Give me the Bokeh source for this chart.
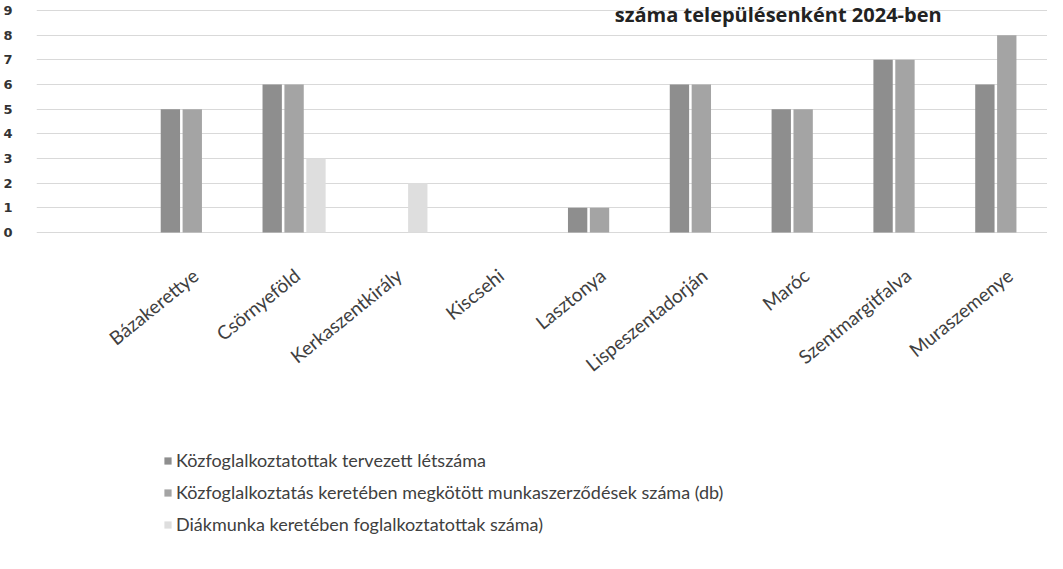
import numpy as np
from bokeh.plotting import figure
from bokeh.models import (ColumnDataSource, FixedTicker, Legend, LegendItem,
                          Label, Range1d)
from bokeh.core.properties import value
from bokeh.transform import dodge
from bokeh.embed import file_html
from bokeh.resources import INLINE

categories = ["Bázakerettye", "Csörnyeföld", "Kerkaszentkirály", "Kiscsehi",
              "Lasztonya", "Lispeszentadorján", "Maróc", "Szentmargitfalva",
              "Muraszemenye"]
tervezett = [5, 6, 0, 0, 1, 6, 5, 7, 6]
megkotott = [5, 6, 0, 0, 1, 6, 5, 7, 8]
diakmunka = [0, 3, 2, 0, 0, 0, 0, 0, 0]
series_names = ["Közfoglalkoztatottak tervezett létszáma",
                "Közfoglalkoztatás keretében megkötött munkaszerződések száma (db)",
                "Diákmunka keretében foglalkoztatottak száma)"]
series_colors = ["#8e8e8e", "#a4a4a4", "#dedede"]
y_ticks = list(range(0, 10))
title_text = "száma településenként 2024-ben"

idx = np.arange(len(categories))
src = ColumnDataSource(dict(x=idx, t=tervezett, m=megkotott, d=diakmunka,
                            name=categories, zero=[0] * len(categories)))

p = figure(width=1047, height=553, output_backend="svg", toolbar_location=None,
           x_range=Range1d(-1.53, 8.4), y_range=Range1d(-13.01, 9.405),
           min_border_left=32, min_border_right=0, min_border_top=0,
           min_border_bottom=0)
p.outline_line_color = None
p.background_fill_color = "white"
p.border_fill_color = "white"

w = 0.19
off = 0.215
r1 = p.vbar(x=dodge("x", -off, range=p.x_range), top="t", width=w, source=src,
            fill_color=series_colors[0], line_color=None)
r2 = p.vbar(x=dodge("x", 0, range=p.x_range), top="m", width=w, source=src,
            fill_color=series_colors[1], line_color=None)
r3 = p.vbar(x=dodge("x", off, range=p.x_range), top="d", width=w, source=src,
            fill_color=series_colors[2], line_color=None)

p.xgrid.grid_line_color = None
p.ygrid.grid_line_color = "#d9d9d9"
p.ygrid.grid_line_width = 1
p.yaxis.ticker = FixedTicker(ticks=y_ticks)
p.yaxis.axis_line_color = None
p.yaxis.major_tick_line_color = None
p.yaxis.minor_tick_line_color = None
p.yaxis.major_label_standoff = 18
p.yaxis.major_label_text_font = "DejaVu Sans"
p.yaxis.major_label_text_font_style = "bold"
p.yaxis.major_label_text_font_size = "13px"
p.yaxis.major_label_text_color = "#333333"
p.xaxis.visible = False

# category labels, rotated, hanging below the zero line
p.text(x=dodge("x", 0.03, range=p.x_range), y="zero", text="name", source=src,
       angle=0.68, text_align="right", text_baseline="middle",
       y_offset=40, text_font=value("Lato"), text_font_size="19px",
       text_color="#404040")

items = [LegendItem(label=series_names[0], renderers=[r1]),
         LegendItem(label=series_names[1], renderers=[r2]),
         LegendItem(label=series_names[2], renderers=[r3])]
legend = Legend(items=items, orientation="vertical", location=(127, 18),
                label_text_font="Lato", label_text_font_size="18px",
                label_text_color="#404040", glyph_width=9, glyph_height=9,
                label_height=21, spacing=10, padding=0, margin=0,
                border_line_color=None, background_fill_alpha=0,
                label_standoff=4)
p.add_layout(legend, "center")

p.add_layout(Label(x=7.36, y=9.405, text=title_text, text_align="right",
                   text_baseline="top", text_font="Open Sans",
                   text_font_style="bold", text_font_size="20px",
                   text_color="#222222"))

open("out.html", "w").write(file_html(p, INLINE))
